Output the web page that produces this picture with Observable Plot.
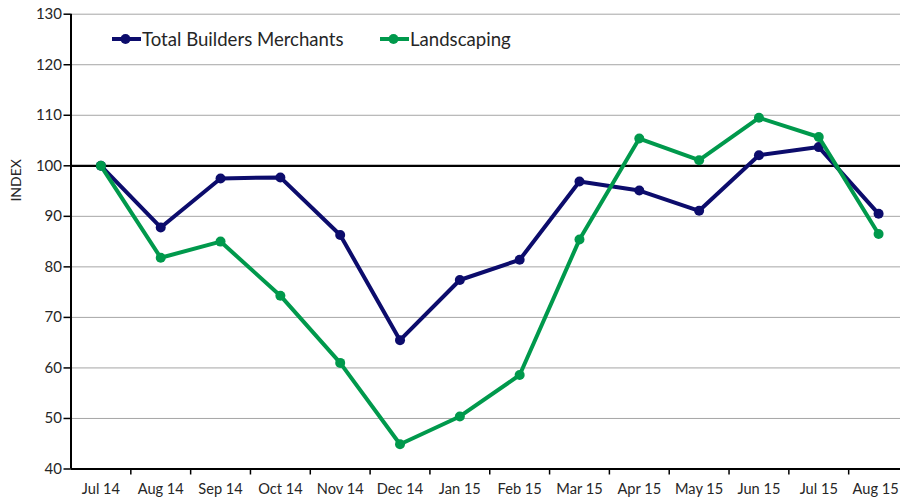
<!DOCTYPE html>
<html>
<head>
<meta charset="utf-8">
<script src="https://cdn.jsdelivr.net/npm/d3@7"></script>
<script src="https://cdn.jsdelivr.net/npm/@observablehq/plot@0.6"></script>
<style>
  html, body { margin: 0; padding: 0; background: #fff; overflow: hidden; }
  #wrap { position: relative; width: 900px; height: 503px; font-family: Lato, "Open Sans", sans-serif; }
  .leg { position: absolute; display: flex; align-items: center; color: #262626; font-size: 18.6px; white-space: nowrap; }
  .leg svg { display: block; margin-right: 1px; }
</style>
</head>
<body>
<div id="wrap"></div>
<script>
const months = ["Jul 14","Aug 14","Sep 14","Oct 14","Nov 14","Dec 14","Jan 15","Feb 15","Mar 15","Apr 15","May 15","Jun 15","Jul 15","Aug 15"];
const totalBuildersMerchants = [100, 87.8, 97.5, 97.7, 86.3, 65.5, 77.4, 81.4, 96.9, 95.1, 91.1, 102.1, 103.7, 90.5];
const landscaping = [100, 81.8, 85.0, 74.3, 61.0, 44.9, 50.4, 58.6, 85.4, 105.4, 101.1, 109.5, 105.7, 86.5];
const yTicks = [40, 50, 60, 70, 80, 90, 100, 110, 120, 130];
const seriesNames = ["Total Builders Merchants", "Landscaping"];
const seriesColors = ["#0c0c6c", "#00994c"];
const referenceLevel = [100];

const idx = months.map((_, i) => i);
const lastIdx = idx[idx.length - 1];
const boundaries = months.map((_, i) => i + 0.5);
const rowsA = idx.map(i => ({i, v: totalBuildersMerchants[i]}));
const rowsB = idx.map(i => ({i, v: landscaping[i]}));

const chart = Plot.plot({
  width: 900,
  height: 503,
  marginLeft: 70.5,
  marginRight: 0,
  marginTop: 13.7,
  marginBottom: 34.5,
  style: {fontFamily: "Lato, 'Open Sans', sans-serif", color: "#262626", background: "#fff", overflow: "hidden"},
  x: {type: "linear", domain: [-0.5, months.length - 0.5], range: [70.5, 908]},
  y: {domain: [40, 130], range: [468.5, 13.7]},
  marks: [
    Plot.gridY(yTicks.slice(1), {stroke: "#a6a6a6", strokeOpacity: 1, strokeWidth: 1}),
    Plot.ruleY(referenceLevel, {stroke: "#000", strokeWidth: 2.2}),
    Plot.axisY(yTicks, {tickSize: 7, tickPadding: 2, fontSize: 15, stroke: "#000", strokeWidth: 1.5, label: null}),
    Plot.axisX(boundaries, {tickSize: 6, tickFormat: () => "", stroke: "#000", strokeWidth: 1.5, label: null}),
    Plot.axisX(idx.slice(0, -1), {tickSize: 0, tickPadding: 15, tickFormat: i => months[i], fontSize: 14.6, label: null}),
    Plot.axisX([lastIdx], {tickSize: 0, tickPadding: 15, tickFormat: i => months[i], fontSize: 14.6, dx: -3, label: null}),
    Plot.ruleX([-0.5], {stroke: "#000", strokeWidth: 2}),
    Plot.ruleY([40], {stroke: "#000", strokeWidth: 2}),
    Plot.text(["INDEX"], {frameAnchor: "left", dx: -54.5, dy: -40, rotate: -90, fontSize: 14, fill: "#262626"}),
    Plot.line(rowsA, {x: "i", y: "v", stroke: seriesColors[0], strokeWidth: 4}),
    Plot.dot(rowsA, {x: "i", y: "v", r: 5, fill: seriesColors[0], stroke: "none"}),
    Plot.line(rowsB, {x: "i", y: "v", stroke: seriesColors[1], strokeWidth: 4}),
    Plot.dot(rowsB, {x: "i", y: "v", r: 5, fill: seriesColors[1], stroke: "none"})
  ]
});

const wrap = document.getElementById("wrap");
wrap.appendChild(chart);

const legendPos = [112, 380];
seriesNames.forEach((name, k) => {
  const d = document.createElement("div");
  d.className = "leg";
  d.style.left = legendPos[k] + "px";
  d.style.top = "28px";
  d.innerHTML = `<svg width="29" height="22"><line x1="0" x2="29" y1="11" y2="11" stroke="${seriesColors[k]}" stroke-width="4"/><circle cx="13.5" cy="11" r="5" fill="${seriesColors[k]}"/></svg><span>${name}</span>`;
  wrap.appendChild(d);
});
</script>
</body>
</html>
